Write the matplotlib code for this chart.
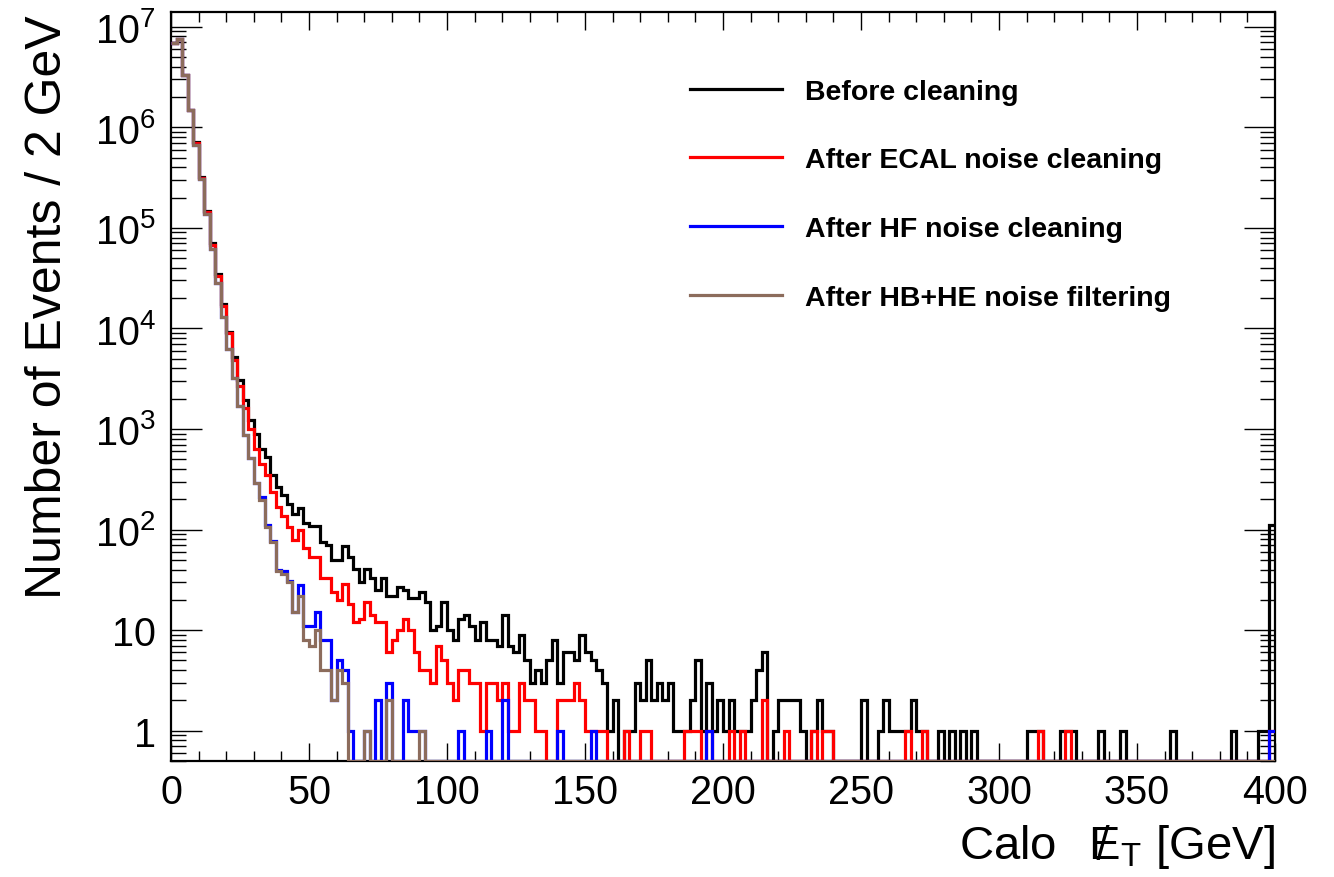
import numpy as np
import matplotlib
matplotlib.use('Agg')
import matplotlib.pyplot as plt
from matplotlib.ticker import MultipleLocator, LogLocator, FuncFormatter, NullFormatter

plt.rcParams['font.family'] = ['Liberation Sans', 'DejaVu Sans']
plt.rcParams['mathtext.fontset'] = 'custom'
plt.rcParams['mathtext.rm'] = 'Liberation Sans'
plt.rcParams['mathtext.it'] = 'Liberation Sans'
plt.rcParams['mathtext.bf'] = 'Liberation Sans:bold'

# 200 bins of 2 GeV, 0..400 GeV
bin_edges = np.arange(0, 402, 2)

labels = ['Before cleaning', 'After ECAL noise cleaning',
          'After HF noise cleaning', 'After HB+HE noise filtering']
colors = ['black', '#ff0000', '#0000ff', '#8c6c5c']

before = [
    6.9e6, 7.5e6, 3.3e6, 1.5e6, 7.2e5, 3.2e5, 1.48e5, 7.0e4, 3.5e4, 1.75e4,
    9300, 5200, 3080, 1950, 1240, 895, 635, 525, 345, 265,
    219, 181, 144, 164, 115, 108, 108, 75, 70, 50,
    50, 68, 53, 41, 30, 41, 33, 25, 33, 22,
    22, 27, 25, 21, 21, 24, 19, 10, 11, 19,
    10, 8, 13, 14, 11, 8, 12, 8, 8, 7,
    14, 7, 6, 9, 5, 3, 4, 3, 5, 8,
    3, 6, 6, 5, 9, 6, 5, 4, 3, 1,
    2, 0, 1, 1, 3, 2, 5, 2, 3, 2,
    3, 1, 1, 1, 2, 5, 1, 3, 1, 2,
    1, 2, 1, 1, 1, 2, 4, 6, 0, 1,
    2, 2, 2, 2, 1, 0, 1, 2, 1, 1,
    0, 0, 0, 0, 0, 2, 0, 0, 1, 2,
    1, 1, 1, 1, 2, 1, 1, 0, 0, 1,
    0, 1, 0, 1, 0, 1, 0, 0, 0, 0,
    0, 0, 0, 0, 0, 1, 1, 1, 0, 0,
    0, 1, 1, 1, 0, 0, 0, 0, 1, 0,
    0, 0, 1, 0, 0, 0, 0, 0, 0, 0,
    0, 1, 0, 0, 0, 0, 0, 0, 0, 0,
    0, 0, 1, 0, 0, 0, 0, 1, 1, 112,
]

after_ecal = [
    6.9e6, 7.5e6, 3.3e6, 1.5e6, 7.0e5, 3.15e5, 1.45e5, 6.8e4, 3.3e4, 1.69e4,
    9000, 4800, 2700, 1600, 1000, 635, 451, 345, 236, 168,
    138, 106, 78, 98, 65, 53, 53, 33, 33, 24,
    20, 29, 18, 12, 13, 19, 14, 12, 12, 6,
    8, 10, 13, 10, 6, 4, 4, 3, 7, 5,
    3, 2, 4, 4, 3, 3, 1, 3, 3, 2,
    3, 1, 1, 3, 2, 2, 1, 1, 0, 0,
    2, 2, 2, 3, 2, 1, 1, 1, 1, 0,
    0, 0, 1, 0, 0, 1, 1, 0, 0, 0,
    0, 0, 0, 1, 1, 1, 0, 1, 0, 0,
    0, 1, 0, 1, 0, 0, 0, 2, 0, 0,
    0, 1, 0, 0, 0, 0, 1, 0, 1, 1,
    0, 0, 0, 0, 0, 0, 0, 0, 0, 0,
    0, 0, 0, 1, 0, 0, 1, 0, 0, 0,
    0, 0, 0, 0, 0, 0, 0, 0, 0, 0,
    0, 0, 0, 0, 0, 0, 0, 1, 0, 0,
    0, 0, 1, 0, 0, 0, 0, 0, 0, 0,
    0, 0, 0, 0, 0, 0, 0, 0, 0, 0,
    0, 0, 0, 0, 0, 0, 0, 0, 0, 0,
    0, 0, 0, 0, 0, 0, 0, 0, 0, 1,
]

after_hf = [
    6.9e6, 7.5e6, 3.3e6, 1.5e6, 6.7e5, 3.05e5, 1.37e5, 6.2e4, 2.8e4, 1.29e4,
    6300, 3200, 1700, 880, 510, 290, 211, 112, 77, 40,
    39, 31, 15, 28, 11, 11, 15, 8, 8, 2,
    5, 4, 1, 0, 0, 1, 0, 2, 0, 3,
    0, 0, 2, 1, 1, 1, 0, 0, 0, 0,
    0, 0, 1, 0, 0, 0, 0, 1, 0, 0,
    2, 0, 0, 0, 0, 0, 0, 0, 0, 0,
    1, 0, 0, 0, 0, 0, 1, 0, 0, 0,
    0, 0, 0, 0, 0, 0, 0, 0, 0, 0,
    0, 0, 0, 0, 0, 0, 0, 1, 0, 0,
] + [0] * 99 + [1]

after_hbhe = [
    6.9e6, 7.5e6, 3.3e6, 1.5e6, 6.7e5, 3.05e5, 1.37e5, 6.2e4, 2.8e4, 1.29e4,
    6300, 3200, 1700, 880, 510, 290, 195, 106, 75, 39,
    36, 30, 15, 22, 8, 7, 10, 4, 4, 2,
    4, 3, 0, 0, 0, 1, 0, 0, 0, 2,
    0, 0, 0, 0, 0, 1, 0, 0, 0, 0,
] + [0] * 150

series = [before, after_ecal, after_hf, after_hbhe]

ymin, ymax = 0.5, 1.4e7

fig = plt.figure(figsize=(13.34, 8.78), dpi=100)
ax = fig.add_axes([171 / 1334, 1 - 762 / 878, 1104 / 1334, 749 / 878])

for vals, lab, col in zip(series, labels, colors):
    v = np.asarray(vals, dtype=float)
    # empty bins sit on the bottom of the frame, as in ROOT
    v = np.where(v > 0, v, ymin)
    ax.stairs(v, bin_edges, baseline=None, color=col, lw=2.3, label=lab, zorder=3)

ax.set_xlim(0, 400)
ax.set_yscale('log')
ax.set_ylim(ymin, ymax)

ax.xaxis.set_major_locator(MultipleLocator(50))
ax.xaxis.set_minor_locator(MultipleLocator(10))
ax.yaxis.set_major_locator(LogLocator(base=10, numticks=20))
ax.yaxis.set_minor_locator(LogLocator(base=10, subs=np.arange(2, 10), numticks=20))


def ylab(v, pos):
    n = int(round(np.log10(v)))
    if n == 0:
        return '1'
    if n == 1:
        return '10'
    return r'$10^{%d}$' % n


ax.yaxis.set_major_formatter(FuncFormatter(ylab))
ax.yaxis.set_minor_formatter(NullFormatter())

ax.tick_params(which='both', direction='in', top=True, right=True, width=1.0, labelsize=28.5)
ax.tick_params(axis='x', which='major', length=13, pad=9)
ax.tick_params(axis='x', which='minor', length=7.5)
ax.tick_params(axis='y', which='major', length=22, pad=11)
ax.tick_params(axis='y', which='minor', length=11)
for s in ax.spines.values():
    s.set_linewidth(1.6)

ax.set_xlabel(r'Calo $\ \ \,\not\!\!\mathrm{E}_{\mathrm{T}}$ [GeV]', fontsize=34, ha='right')
ax.xaxis.set_label_coords(1.0, -0.081)
ax.set_ylabel('Number of Events / 2 GeV', fontsize=36, ha='right', va='baseline')
ax.yaxis.set_label_coords(-0.0996, 0.997)

ax.legend(loc='upper left', bbox_to_anchor=(0.470, 0.911), frameon=False,
          prop={'weight': 'bold', 'size': 20.5}, handlelength=3.25,
          handletextpad=0.8, labelspacing=1.5, borderpad=0, borderaxespad=0)

fig.savefig('out.png', dpi=100)
